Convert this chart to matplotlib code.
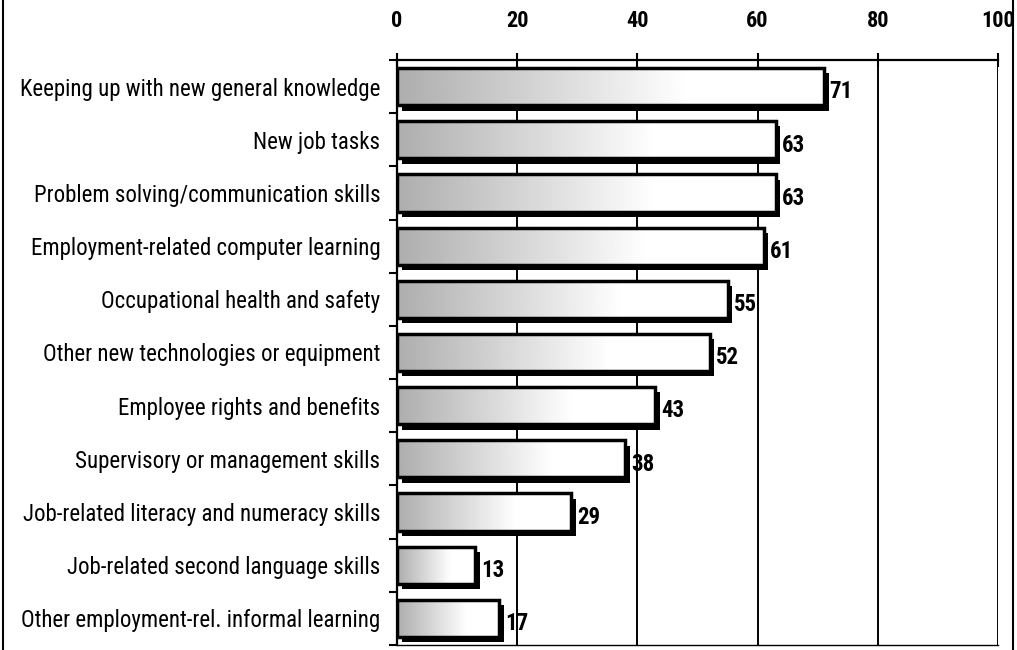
import numpy as np
import matplotlib.pyplot as plt
from matplotlib.patches import Rectangle
from matplotlib.lines import Line2D

categories = [
    "Keeping up with new general knowledge",
    "New job tasks",
    "Problem solving/communication skills",
    "Employment-related computer learning",
    "Occupational health and safety",
    "Other new technologies or equipment",
    "Employee rights and benefits",
    "Supervisory or management skills",
    "Job-related literacy and numeracy skills",
    "Job-related second language skills",
    "Other employment-rel. informal learning",
]
values = [71, 63, 63, 61, 55, 52, 43, 38, 29, 13, 17]
xticks = [0, 20, 40, 60, 80, 100]

FONT = ["Roboto Condensed", "DejaVu Sans"]
BAR_H = 0.70

fig = plt.figure(figsize=(10.17, 6.5), dpi=100)
ax = fig.add_axes([0.3904, 0.0077, 0.5909, 0.9000])

n = len(categories)
ypos = np.arange(n)

# vertical grid lines
for t in xticks[1:]:
    ax.axvline(t, color="black", lw=1.4, zorder=1)

# stippled fill imitated by a grey-to-white gradient
grad = np.clip(np.linspace(0.68, 1.15, 256), 0, 1)[None, :]

for y, v in zip(ypos, values):
    top = y - BAR_H / 2
    # drop shadow
    ax.add_patch(Rectangle((0.8, top + 0.1), v, BAR_H, facecolor="black",
                           edgecolor="none", zorder=2))
    bar = Rectangle((0, top), v, BAR_H, facecolor="white",
                    edgecolor="none", zorder=3)
    ax.add_patch(bar)
    im = ax.imshow(grad, cmap="gray", vmin=0, vmax=1, aspect="auto",
                   extent=(0, v, top + BAR_H, top), zorder=3.5,
                   interpolation="bilinear")
    im.set_clip_path(bar)
    ax.add_patch(Rectangle((0, top), v, BAR_H, facecolor="none",
                           edgecolor="black", lw=2.5, zorder=4))
    ax.text(v + 1.0, y + 0.1, str(v), va="center", ha="left",
            fontsize=16.5, fontweight="bold", family=FONT, zorder=5)

ax.set_aspect("auto")
ax.set_xlim(0, 100)
ax.set_ylim(n - 0.5, -0.5)

ax.xaxis.tick_top()
ax.set_xticks(xticks)
ax.set_xticklabels([str(t) for t in xticks], fontsize=16, fontweight="bold",
                   family=FONT)
ax.tick_params(axis="x", direction="inout", length=10, width=1.5, pad=15)

ax.set_yticks(ypos)
ax.set_yticklabels(categories, fontsize=16.5, family=FONT)
ax.tick_params(axis="y", which="major", length=0, pad=12)
ax.set_yticks(np.arange(n + 1) - 0.5, minor=True)
ax.tick_params(axis="y", which="minor", direction="out", length=6, width=1.5)

for side in ["top", "left"]:
    ax.spines[side].set_linewidth(1.6)
ax.spines["right"].set_visible(False)
ax.spines["bottom"].set_linewidth(1.0)

# frame lines at figure edges
fig.add_artist(Line2D([0.003, 0.003], [0, 1], color="black", lw=1.5,
                      transform=fig.transFigure))
fig.add_artist(Line2D([0.9965, 0.9965], [0, 1], color="black", lw=1.5,
                      transform=fig.transFigure))

fig.savefig("out.png", dpi=100)
